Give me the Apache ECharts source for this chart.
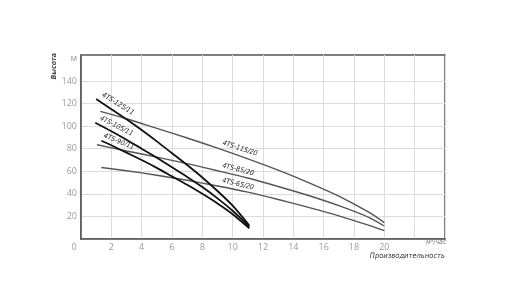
<!DOCTYPE html>
<html>
<head>
<meta charset="utf-8">
<script src="https://cdn.jsdelivr.net/npm/echarts@6/dist/echarts.min.js"></script>
<style>
  html, body { margin: 0; padding: 0; background: #fff; }
  #chart { width: 508px; height: 306px; }
</style>
</head>
<body>
<div id="chart"></div>
<script>
// подача, м3/час и напор, м для каждой модели насоса
const q125 = [1.0, 2, 3, 4, 5, 6, 7, 8, 9, 10, 11.1];
const h125 = [124, 115, 106, 96.5, 86.5, 76, 65.5, 54.5, 42.5, 29.5, 12];
const q105 = [0.94, 2, 3, 4, 5, 6, 7, 8, 9, 10, 11.1];
const h105 = [103, 95.5, 88, 80, 72, 63.5, 55, 46, 36, 25, 11];
const q90 = [1.34, 2, 3, 4, 5, 6, 7, 8, 9, 10, 11.1];
const h90 = [87, 83, 76.5, 70, 63, 55.5, 48, 40, 31.5, 22, 9.5];
const q115 = [1.27, 3, 5, 7, 9, 11, 13, 15, 17, 19, 20];
const h115 = [113, 106.5, 98, 89.5, 80.5, 71, 61, 50, 38, 23.5, 14.5];
const q85 = [1.05, 3, 5, 7, 9, 11, 13, 15, 17, 19, 20];
const h85 = [83.5, 78, 72.5, 66.8, 60.5, 54, 46.5, 38.5, 29.5, 19, 11.5];
const q65 = [1.34, 3, 5, 7, 9, 11, 13, 15, 17, 19, 20];
const h65 = [63.3, 60.5, 56.5, 52, 47, 41.5, 35, 28, 20.5, 12, 7.4];

const xLabels = [0, 2, 4, 6, 8, 10, 12, 14, 16, 18, 20];
const yLabels = [20, 40, 60, 80, 100, 120, 140, 160];
const yGrid = [0, 20, 40, 60, 80, 100, 120, 140];

const chart = echarts.init(document.getElementById('chart'), null, { renderer: 'canvas' });

const labelFont = "'Liberation Sans Narrow', 'DejaVu Sans Condensed', sans-serif";

// линия + подпись на точке labelIdx
function curve(name, qs, hs, labelIdx, angle, dist, color, width) {
  let data = [];
  for (let i = 0; i < qs.length; i++) {
    if (i === labelIdx) {
      data.push({
        value: [qs[i], hs[i]],
        label: {
          show: true,
          formatter: name,
          position: 'right',
          distance: dist,
          rotate: -angle,
          align: 'left',
          verticalAlign: 'bottom',
          offset: [0, -2],
          fontFamily: labelFont,
          fontStyle: 'italic',
          fontSize: 7,
          color: '#222'
        }
      });
    } else {
      data.push([qs[i], hs[i]]);
    }
  }
  return {
    name: name,
    type: 'line',
    smooth: 0.25,
    symbol: 'circle',
    symbolSize: 1,
    showSymbol: true,
    itemStyle: { color: 'rgba(0,0,0,0)', borderWidth: 0 },
    lineStyle: { color: color, width: width },
    data: data,
    z: width > 1.6 ? 3 : 2
  };
}

const option = {
  animation: false,
  backgroundColor: '#ffffff',
  grid: {
    left: 81, right: 63, top: 55, bottom: 67,
    show: true, borderColor: '#555', borderWidth: 1.5
  },
  xAxis: {
    type: 'value',
    min: 0, max: 24, interval: 2,
    axisLine: { show: true, lineStyle: { color: '#555', width: 1.5 } },
    axisTick: { show: false },
    splitLine: { show: true, lineStyle: { color: '#dcdcdc', width: 1 } },
    axisLabel: {
      customValues: xLabels,
      color: '#9a9a9a', fontSize: 9, margin: 4,
      fontFamily: "'Open Sans', sans-serif",
      formatter: function (v) { return v === 0 ? '{z|0}' : String(v); },
      rich: { z: { padding: [0, 14, 0, 0], color: '#9a9a9a', fontSize: 9 } }
    }
  },
  yAxis: {
    type: 'value',
    min: 0, max: 163,
    axisLine: { show: true, lineStyle: { color: '#555', width: 1.5 } },
    axisTick: { show: false, customValues: yGrid },
    splitLine: { show: true, lineStyle: { color: '#dcdcdc', width: 1 } },
    axisLabel: {
      customValues: yLabels,
      color: '#9a9a9a', fontSize: 9, margin: 4,
      fontFamily: "'Open Sans', sans-serif",
      formatter: function (v) { return v === 160 ? 'м' : String(v); }
    }
  },
  graphic: [
    {
      type: 'text', left: 51, top: 53, rotation: Math.PI / 2,
      style: { text: 'Высота', font: "italic bold 7px " + labelFont, fill: '#444' }
    },
    {
      type: 'text', left: 426, top: 239,
      style: { text: 'м³/час', font: "italic 7px " + labelFont, fill: '#777' }
    },
    {
      type: 'text', right: 63, top: 252,
      style: { text: 'Производительность', font: "italic 7.5px " + labelFont, fill: '#333' }
    }
  ],
  series: [
    curve('4TS-115/20', q115, h115, 4, 18, 3, '#555', 1.4),
    curve('4TS-85/20', q85, h85, 4, 15, 3, '#555', 1.4),
    curve('4TS-65/20', q65, h65, 4, 13, 3, '#555', 1.4),
    curve('4TS-125/11', q125, h125, 0, 32, 3, '#111', 1.8),
    curve('4TS-105/11', q105, h105, 0, 27, 2, '#111', 1.8),
    curve('4TS-90/11', q90, h90, 0, 22, 0, '#111', 1.8)
  ]
};

chart.setOption(option);
</script>
</body>
</html>
